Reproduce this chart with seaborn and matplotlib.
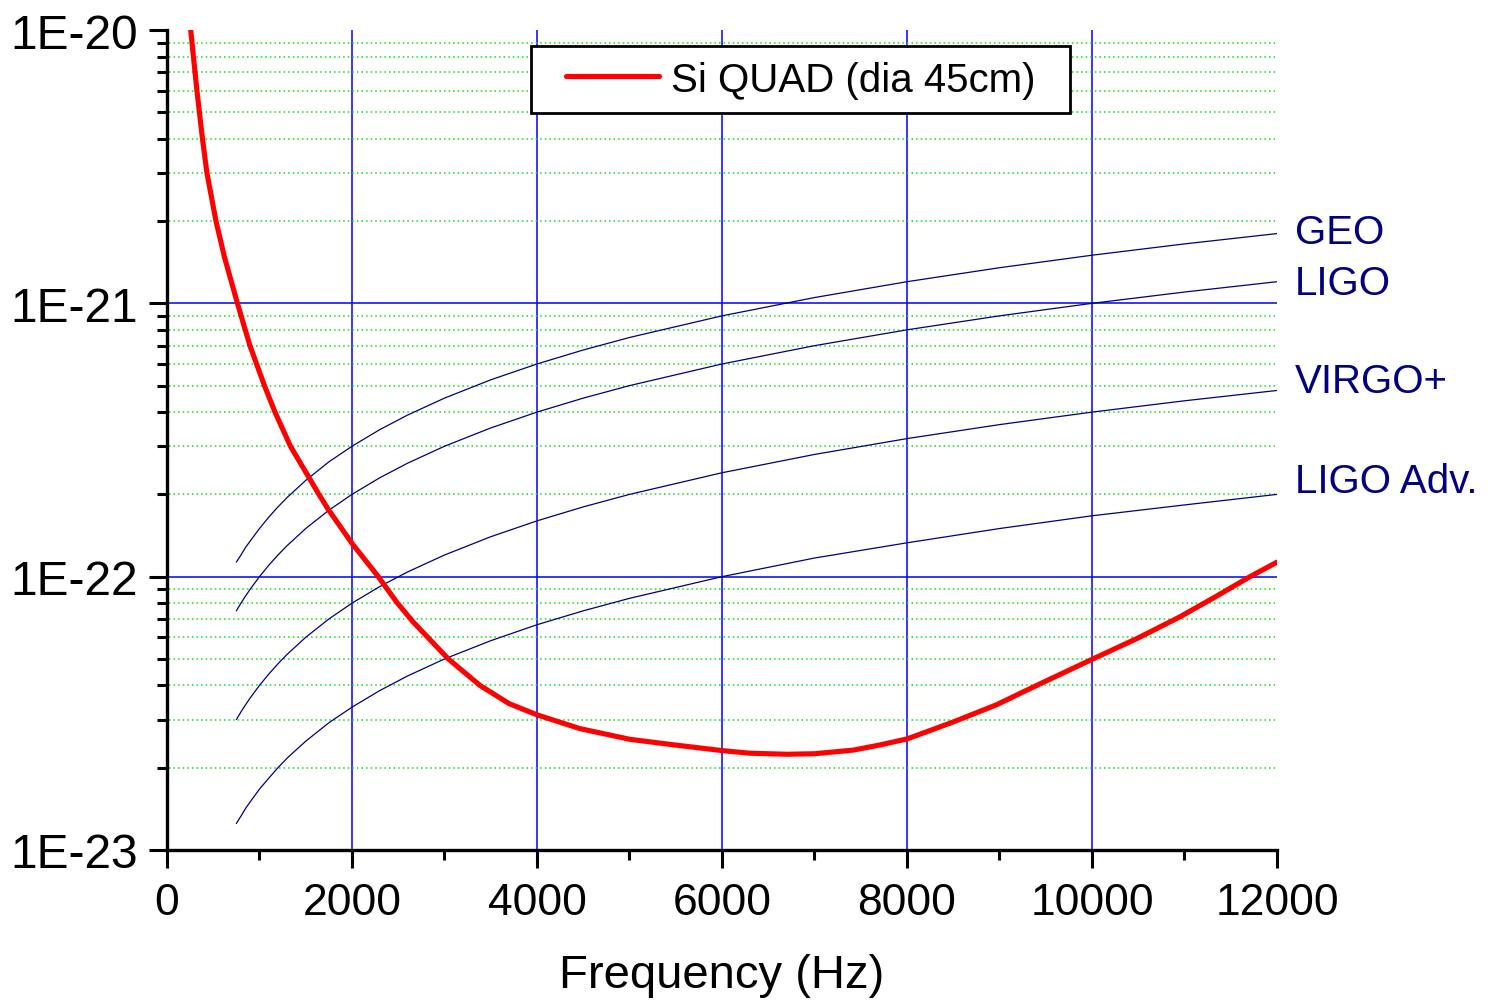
import numpy as np
import pandas as pd
import seaborn as sns
import matplotlib
matplotlib.use("Agg")
import matplotlib.pyplot as plt
from matplotlib.ticker import FixedLocator, FixedFormatter, NullFormatter
from matplotlib.patches import Rectangle

# ---------------- data ----------------
quad_freq = [257, 286, 324, 384, 432, 530, 622, 762, 897, 1054, 1168, 1335, 1643,
             1740, 2003, 2285, 2483, 2663, 3042, 3384, 3700, 4003, 4465, 5005, 5500,
             6004, 6300, 6700, 7000, 7420, 7700, 8003, 8500, 8969, 9402, 10004,
             10500, 10951, 11350, 11708, 12000]
quad_h = [1.0e-20, 8.0e-21, 6.0e-21, 4.0e-21, 3.0e-21, 2.0e-21, 1.475e-21, 1.0e-21,
          7.0e-22, 5.0e-22, 4.0e-22, 3.0e-22, 2.0e-22, 1.77e-22, 1.32e-22, 1.0e-22,
          8.07e-23, 6.82e-23, 5.0e-23, 4.0e-23, 3.43e-23, 3.12e-23, 2.78e-23, 2.54e-23,
          2.42e-23, 2.31e-23, 2.26e-23, 2.24e-23, 2.25e-23, 2.32e-23, 2.42e-23, 2.55e-23,
          2.94e-23, 3.40e-23, 4.0e-23, 4.99e-23, 5.97e-23, 7.13e-23, 8.5e-23, 1.0e-22,
          1.13e-22]

det_freq = [750, 800, 850, 900, 1000, 1100, 1200, 1300, 1500, 1750, 2000, 2300, 2600,
            3000, 3500, 4000, 4500, 5000, 6000, 7000, 8000, 9000, 10000, 11000, 12000]
geo_h = [1.13e-22, 1.2e-22, 1.28e-22, 1.35e-22, 1.5e-22, 1.65e-22, 1.8e-22, 1.95e-22,
         2.25e-22, 2.63e-22, 3.0e-22, 3.45e-22, 3.9e-22, 4.5e-22, 5.25e-22, 6.0e-22,
         6.75e-22, 7.5e-22, 9.0e-22, 1.05e-21, 1.2e-21, 1.35e-21, 1.5e-21, 1.65e-21,
         1.8e-21]
ligo_h = [7.5e-23, 8.0e-23, 8.5e-23, 9.0e-23, 1.0e-22, 1.1e-22, 1.2e-22, 1.3e-22,
          1.5e-22, 1.75e-22, 2.0e-22, 2.3e-22, 2.6e-22, 3.0e-22, 3.5e-22, 4.0e-22,
          4.5e-22, 5.0e-22, 6.0e-22, 7.0e-22, 8.0e-22, 9.0e-22, 1.0e-21, 1.1e-21,
          1.2e-21]
virgo_h = [3.0e-23, 3.2e-23, 3.4e-23, 3.6e-23, 4.0e-23, 4.4e-23, 4.8e-23, 5.2e-23,
           6.0e-23, 7.0e-23, 8.0e-23, 9.2e-23, 1.04e-22, 1.2e-22, 1.4e-22, 1.6e-22,
           1.8e-22, 2.0e-22, 2.4e-22, 2.8e-22, 3.2e-22, 3.6e-22, 4.0e-22, 4.4e-22,
           4.8e-22]
ligoadv_h = [1.25e-23, 1.33e-23, 1.42e-23, 1.5e-23, 1.67e-23, 1.83e-23, 2.0e-23, 2.17e-23,
             2.5e-23, 2.92e-23, 3.33e-23, 3.83e-23, 4.33e-23, 5.0e-23, 5.83e-23, 6.67e-23,
             7.5e-23, 8.33e-23, 1.0e-22, 1.17e-22, 1.33e-22, 1.5e-22, 1.67e-22, 1.83e-22,
             2.0e-22]

det_names = ["GEO", "LIGO", "VIRGO+", "LIGO Adv."]
det_label_y = [1.82e-21, 1.19e-21, 5.19e-22, 2.24e-22]
quad_label = "Si QUAD (dia 45cm)"
x_ticks = [0, 2000, 4000, 6000, 8000, 10000, 12000]
x_tick_labels = ["0", "2000", "4000", "6000", "8000", "10000", "12000"]
y_ticks = [1e-23, 1e-22, 1e-21, 1e-20]
y_tick_labels = ["1E-23", "1E-22", "1E-21", "1E-20"]
x_label = "Frequency (Hz)"

# ---------------- style ----------------
sns.set_style("white")
plt.rcParams["font.family"] = ["Liberation Sans", "DejaVu Sans"]
plt.rcParams["text.color"] = "black"
plt.rcParams["axes.labelcolor"] = "black"
plt.rcParams["xtick.color"] = "black"
plt.rcParams["ytick.color"] = "black"

fig = plt.figure(figsize=(14.88, 10.04), dpi=100)
ax = fig.add_axes([0.1122, 0.1524, 0.7460, 0.8167])

quad_df = pd.DataFrame({"f": quad_freq, "h": quad_h})
det_df = pd.DataFrame({
    "f": det_freq * 4,
    "h": geo_h + ligo_h + virgo_h + ligoadv_h,
    "det": sum([[n] * len(det_freq) for n in det_names], []),
})

navy = "#000080"
sns.lineplot(data=det_df, x="f", y="h", units="det", estimator=None, color=navy,
             lw=0.9, ax=ax, sort=False, zorder=3)
sns.lineplot(data=quad_df, x="f", y="h", color="#ff0000", lw=3.7, ax=ax,
             sort=False, zorder=4, label=quad_label, solid_joinstyle="round")

ax.set_yscale("log")
ax.set_xlim(0, 12000)
ax.set_ylim(1e-23, 1e-20)

# grid: major blue solid, minor green dotted (interior only)
for xv in x_ticks[1:-1]:
    ax.axvline(xv, color="#0000ff", lw=1.1, zorder=1)
for yv in y_ticks[1:-1]:
    ax.axhline(yv, color="#0000ff", lw=1.1, zorder=1)
minor_y = [m * 10.0 ** e for e in (-23, -22, -21) for m in range(2, 10)]
for yv in minor_y:
    ax.axhline(yv, xmin=0.002, xmax=0.998, color="#11e011", lw=1.1,
               ls=(0, (1, 2)), zorder=1)

# ticks
ax.yaxis.set_major_locator(FixedLocator(y_ticks))
ax.yaxis.set_major_formatter(FixedFormatter(y_tick_labels))
ax.yaxis.set_minor_locator(FixedLocator(minor_y))
ax.yaxis.set_minor_formatter(NullFormatter())
ax.xaxis.set_major_locator(FixedLocator(x_ticks))
ax.xaxis.set_major_formatter(FixedFormatter(x_tick_labels))
ax.xaxis.set_minor_locator(FixedLocator(list(range(1000, 12000, 2000))))
ax.tick_params(axis="both", which="both", bottom=True, left=True, top=False,
               right=False)
ax.tick_params(axis="both", which="major", direction="out", length=13, width=2.2,
               color="black")
ax.tick_params(axis="both", which="minor", direction="out", length=7, width=2.2,
               color="black")
ax.tick_params(axis="y", which="major", labelsize=34.5, pad=8)
ax.tick_params(axis="x", which="major", labelsize=32, pad=10)

for s in ("top", "right"):
    ax.spines[s].set_visible(False)
for s in ("left", "bottom"):
    ax.spines[s].set_color("black")
    ax.spines[s].set_linewidth(2.4)
    ax.spines[s].set_zorder(6)

ax.set_xlabel(x_label, fontsize=34, labelpad=22)
ax.set_ylabel("")

# detector labels
for name, yv in zip(det_names, det_label_y):
    ax.text(12190, yv, name, color=navy, fontsize=29, va="center", ha="left",
            clip_on=False)

# legend with custom frame
rect = Rectangle((0.328, 0.8988), 0.4855, 0.0817, transform=ax.transAxes,
                 facecolor="white", edgecolor="black", lw=2, zorder=7,
                 clip_on=False)
ax.add_patch(rect)
leg = ax.legend(loc="center left", bbox_to_anchor=(0.3595, 0.9396), frameon=False,
                fontsize=29, handlelength=2.3, handletextpad=0.3, borderpad=0,
                borderaxespad=0)
leg.set_zorder(8)

fig.savefig("out.png", dpi=100)
